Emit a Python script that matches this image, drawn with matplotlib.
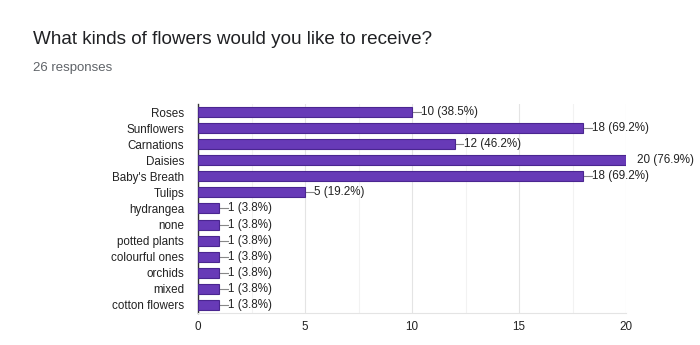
import matplotlib.pyplot as plt
from matplotlib.ticker import MultipleLocator

plt.rcParams['font.family'] = ['Liberation Sans', 'DejaVu Sans']

flowers = ["Roses", "Sunflowers", "Carnations", "Daisies", "Baby's Breath", "Tulips",
           "hydrangea", "none", "potted plants", "colourful ones", "orchids", "mixed",
           "cotton flowers"]
counts = [10, 18, 12, 20, 18, 5, 1, 1, 1, 1, 1, 1, 1]
percents = [38.5, 69.2, 46.2, 76.9, 69.2, 19.2, 3.8, 3.8, 3.8, 3.8, 3.8, 3.8, 3.8]
x_ticks = [0, 5, 10, 15, 20]

fig = plt.figure(figsize=(7, 3.45), dpi=100)
ax = fig.add_axes([0.2829, 0.0928, 0.6114, 0.6058])

ypos = list(range(len(flowers)))
ax.barh(ypos, counts, height=0.62, color="#673ab7", edgecolor="#4a2690", linewidth=0.8, zorder=3)

xmax = max(x_ticks)
for y, c, p in zip(ypos, counts, percents):
    label = f"{c} ({p}%)"
    if c >= xmax:
        ax.text(c + 0.5, y, label, va="center", ha="left", fontsize=8.4, color="#222222")
    else:
        ax.plot([c, c + 0.4], [y, y], color="#888888", lw=0.8, zorder=2, clip_on=False)
        ax.text(c + 0.42, y, label, va="center", ha="left", fontsize=8.4, color="#222222")

ax.set_ylim(len(flowers) - 0.5, -0.5)
ax.set_xlim(0, xmax)
ax.set_yticks(ypos)
ax.set_yticklabels(flowers, fontsize=8.4, color="#222222")
ax.set_xticks(x_ticks)
ax.set_xticklabels([str(t) for t in x_ticks], fontsize=8.4, color="#222222")
ax.xaxis.set_minor_locator(MultipleLocator(2.5))
ax.tick_params(axis="both", which="both", length=0)
ax.tick_params(axis="x", pad=6)
ax.tick_params(axis="y", pad=10)
ax.grid(axis="x", which="major", color="#e4e4e4", lw=0.8, zorder=0)
ax.grid(axis="x", which="minor", color="#f2f2f2", lw=0.8, zorder=0)

for s in ["top", "right"]:
    ax.spines[s].set_visible(False)
ax.spines["bottom"].set_color("#e4e4e4")
ax.spines["left"].set_color("#333333")
ax.spines["left"].set_linewidth(1.0)

fig.text(33 / 700, 1 - 40 / 345, "What kinds of flowers would you like to receive?",
         fontsize=13.6, color="#202124", va="center", ha="left")
fig.text(33 / 700, 1 - 68 / 345, "26 responses", fontsize=9.5, color="#5f6368",
         va="center", ha="left")

fig.savefig("out.png", dpi=100, facecolor="white")
